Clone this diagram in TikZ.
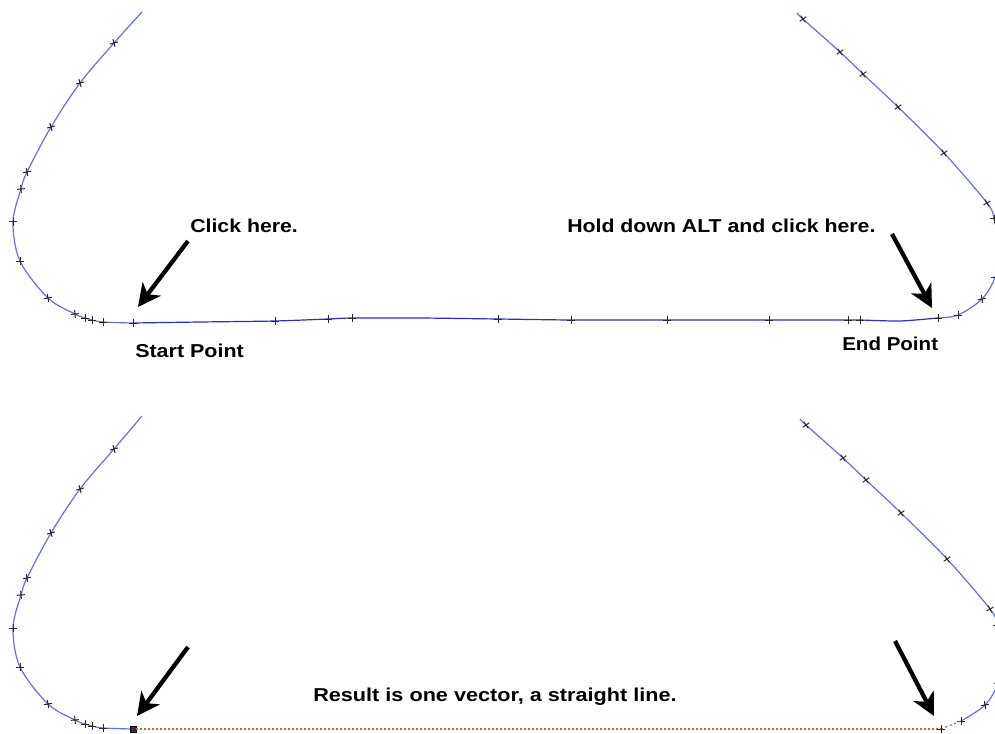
\documentclass[tikz,border=0pt]{standalone}
\usepackage{fontspec}
\setmainfont{Liberation Sans}
\usetikzlibrary{arrows.meta}
\definecolor{curveblue}{RGB}{100,112,228}
\definecolor{lineblue}{RGB}{40,50,200}
\definecolor{dotred}{RGB}{230,90,60}
\definecolor{markgray}{RGB}{40,40,40}
\tikzset{
  crs/.pic={\draw[markgray, line width=0.75pt] (-4,0)--(4,0) (0,-4)--(0,4);},
  curvestyle/.style={curveblue, line width=0.9pt},
  linestyle/.style={lineblue, line width=0.9pt},
  reddots/.style={dotred, line width=1pt, dash pattern=on 1.5pt off 1.5pt},
  graydots/.style={gray, line width=1pt, dash pattern=on 1.5pt off 2pt},
  bigarrow/.style={line width=3.2pt, -{Stealth[length=17pt,width=17pt,inset=5pt]}},
  lbl/.style={inner sep=0pt, anchor=base west, font=\bfseries\fontsize{14}{16}\selectfont},
  endsq/.style={fill=black!80, draw=black, line width=0.3pt, minimum size=4.5pt, inner sep=0pt}
}
\def\leftmarks{114/43/15, 80/83/15, 51/127/15, 27/172/10, 21/189/5, 13/222/0, 20/261/0, 48/298/10, 75/314/5, 85/318/0, 92/320/0, 103/322/0}
\def\midmarks{275/321, 328/319, 352/318, 498/319, 571/320, 667/320, 769/320, 848/320, 860/320}
\def\rightmarks{958/315/0, 982/299/10, 995/277/0, 994/219/0, 987/203/30, 944/153/35, 898/107/35, 863/74/35, 840/52/35, 803/19/35}
\begin{document}
\begin{tikzpicture}[x=0.75pt, y=-0.75pt]
\fill[white] (0,0) rectangle (995,734);
\useasboundingbox (0,0) rectangle (995,734);
\clip (0,0) rectangle (995,734);

% ---------- top half ----------
\draw[curvestyle] plot[smooth, tension=0.55] coordinates {(142,12) (114,43) (80,83) (51,127) (27,172) (21,189) (13,222) (20,261) (48,298) (75,314) (85,318) (92,320) (103,322) (133,323)};
\draw[linestyle] plot[smooth, tension=0.4] coordinates {(133,323) (200,322) (275,321) (328,319) (352,318) (420,318) (498,319) (571,320) (667,320) (769,320) (848,320) (860,320) (900,321) (938,318)};
\draw[curvestyle] plot[smooth, tension=0.55] coordinates {(938,318) (958,315) (982,299) (995,277) (999,248) (994,219) (987,203) (944,153) (898,107) (863,74) (840,52) (803,19) (797,13)};
\foreach \x/\y/\a in \leftmarks { \pic[rotate=\a] at (\x,\y) {crs}; }
\pic at (133,323) {crs};
\foreach \x/\y in \midmarks { \pic at (\x,\y) {crs}; }
\pic at (938,318) {crs};
\foreach \x/\y/\a in \rightmarks { \pic[rotate=\a] at (\x,\y) {crs}; }

\coordinate (tlTail) at (188,241);
\coordinate (tlTip) at (138,307);
\coordinate (trTail) at (892,234);
\coordinate (trTip) at (932,308);
\draw[bigarrow] (tlTail) -- (tlTip);
\draw[bigarrow] (trTail) -- (trTip);

\node[lbl] (click) at (190,233) {\scalebox{1.14}[1]{Click here.}};
\node[lbl] (hold) at (567,233) {\scalebox{1.14}[1]{Hold down ALT and click here.}};
\node[lbl] (start) at (135,357) {\scalebox{1.15}[1]{Start Point}};
\node[lbl] (endp) at (842,350) {\scalebox{1.1}[1]{End Point}};

% ---------- bottom half ----------
\begin{scope}[shift={(0,406)}]
\draw[curvestyle] plot[smooth, tension=0.55] coordinates {(142,10) (114,43) (80,83) (51,127) (27,172) (21,189) (13,222) (20,261) (48,298) (75,314) (85,318) (92,320) (103,322) (133,323)};
\foreach \x/\y/\a in \leftmarks { \pic[rotate=\a] at (\x,\y) {crs}; }
\end{scope}
\begin{scope}[shift={(3,406)}]
\draw[curvestyle] plot[smooth, tension=0.55] coordinates {(958,315) (982,299) (995,277) (999,248) (994,219) (987,203) (944,153) (898,107) (863,74) (840,52) (803,19) (797,13)};
\foreach \x/\y/\a in \rightmarks { \pic[rotate=\a] at (\x,\y) {crs}; }
\end{scope}
\node[endsq] (sq) at (133,729) {};
\coordinate (endB) at (941,729);
\coordinate (curB) at (961,721);
\draw[reddots] (sq.east) -- (endB);
\draw[graydots] (endB) -- (curB);
\pic at (endB) {crs};

\coordinate (blTail) at (188,647);
\coordinate (blTip) at (137,716);
\coordinate (brTail) at (895,641);
\coordinate (brTip) at (934,716);
\draw[bigarrow] (blTail) -- (blTip);
\draw[bigarrow] (brTail) -- (brTip);

\node[lbl] (result) at (313,701) {\scalebox{1.16}[1]{Result is one vector, a straight line.}};
\end{tikzpicture}
\end{document}
